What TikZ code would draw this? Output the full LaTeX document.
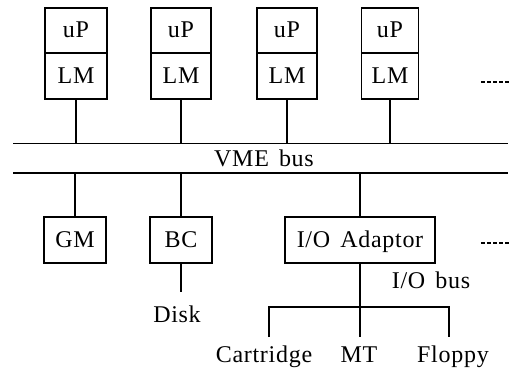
\documentclass[tikz,border=0pt]{standalone}
\usepackage{fontspec}
\setmainfont{Liberation Serif}[LetterSpace=3, WordSpace=1.5]
\begin{document}
\begin{tikzpicture}[x=1pt,y=-1pt,
  lbl/.style={font=\fontsize{24}{27}\selectfont, inner sep=0pt},
  cell/.style={lbl, draw, line width=1.2pt, minimum height=46pt, text height=16pt, text depth=1pt},
  wire/.style={line width=1.2pt},
  busline/.style={line width=1.8pt},
  more/.style={line width=1.6pt, dash pattern=on 3.5pt off 2.5pt}]
\useasboundingbox (0,0) rectangle (514,369);
% top modules
\node[cell, minimum width=62pt, minimum height=45pt] (up1) at (76,30.5) {uP};
\node[cell, minimum width=62pt] (lm1) at (76,76) {LM};
\node[cell, minimum width=60pt, minimum height=45pt] (up2) at (181,30.5) {uP};
\node[cell, minimum width=60pt] (lm2) at (181,76) {LM};
\node[cell, minimum width=60pt, minimum height=45pt] (up3) at (287,30.5) {uP};
\node[cell, minimum width=60pt] (lm3) at (287,76) {LM};
\node[cell, minimum width=57pt, minimum height=45pt] (up4) at (390,30.5) {uP};
\node[cell, minimum width=57pt] (lm4) at (390,76) {LM};
% bus
\coordinate (btl) at (13,143.5);
\coordinate (btr) at (508,143.5);
\coordinate (bbl) at (13,173);
\coordinate (bbr) at (508,173);
\draw[busline] (btl) -- (btr);
\draw[busline] (bbl) -- (bbr);
\node[lbl, anchor=base] (vme) at (264,166) {VME bus};
\foreach \i in {1,2,3,4}{
  \draw[wire] (lm\i.south) -- (lm\i.south |- btl);
}
% lower modules
\node[cell, minimum width=62pt] (gm) at (75,240) {GM};
\node[cell, minimum width=62pt] (bc) at (181,240) {BC};
\node[cell, minimum width=150pt] (io) at (360,240) {I/O Adaptor};
\draw[wire] (gm.north |- bbl) -- (gm.north);
\draw[wire] (bc.north |- bbl) -- (bc.north);
\draw[wire] (io.north |- bbl) -- (io.north);
% disk
\coordinate (dk) at (181,292);
\draw[wire] (bc.south) -- (dk);
\node[lbl, anchor=base] (disk) at (177,322) {Disk};
% I/O bus
\coordinate (iob) at (360,337);
\coordinate (ca) at (269,337);
\coordinate (fl) at (449,337);
\coordinate (cat) at (269,307);
\coordinate (flt) at (449,307);
\draw[wire] (io.south) -- (iob);
\draw[wire] (ca) -- (cat) -- (flt) -- (fl);
\node[lbl, anchor=base] (iobus) at (431,288) {I/O bus};
\node[lbl, anchor=base] (cart) at (264,362) {Cartridge};
\node[lbl, anchor=base] (mt) at (359,362) {MT};
\node[lbl, anchor=base] (flop) at (453,362) {Floppy};
% continuation marks
\coordinate (m1a) at (481,82);
\coordinate (m1b) at (511,82);
\coordinate (m2a) at (481,243);
\coordinate (m2b) at (511,243);
\draw[more] (m1a) -- (m1b);
\draw[more] (m2a) -- (m2b);
\end{tikzpicture}
\end{document}
